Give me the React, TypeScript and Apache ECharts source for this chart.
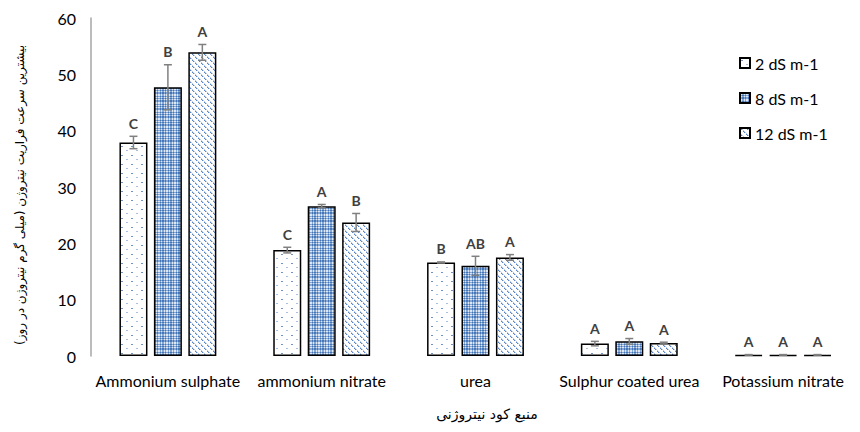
import React, { useEffect, useRef } from "react";
import * as echarts from "echarts";

const categories = ["Ammonium sulphate", "ammonium nitrate", "urea", "Sulphur coated urea", "Potassium nitrate"];
const seriesNames = ["2 dS m-1", "8 dS m-1", "12 dS m-1"];
const values2 = [37.9, 18.8, 16.6, 2.2, 0.2];
const values8 = [47.7, 26.6, 16.0, 2.6, 0.2];
const values12 = [53.9, 23.7, 17.5, 2.3, 0.2];
const err2 = [1.1, 0.5, 0.1, 0.4, 0.05];
const err8 = [4.0, 0.3, 1.7, 0.5, 0.05];
const err12 = [1.4, 1.6, 0.5, 0.15, 0.05];
const letters2 = ["C", "C", "B", "A", "A"];
const letters8 = ["B", "A", "AB", "A", "A"];
const letters12 = ["A", "B", "A", "A", "A"];
const yTicks = { min: 0, max: 60, interval: 10 };
const yTitle = "بیشترین سرعت فراریت نیتروژن (میلی گرم نیتروژن در روز)";
const xTitle = "منبع کود نیتروژنی";

const BAR_W = 28;
const GAP_RATIO = 0.23;

function makeTile(kind: number): HTMLCanvasElement {
  const c = document.createElement("canvas");
  const ctx = c.getContext("2d")!;
  if (kind === 0) {
    c.width = 10; c.height = 9;
    ctx.fillStyle = "#ffffff"; ctx.fillRect(0, 0, 10, 9);
    ctx.fillStyle = "#6f93c6"; ctx.fillRect(1, 2, 2, 1);
    ctx.fillStyle = "#a9bfdf"; ctx.fillRect(6, 6, 2, 1);
  } else if (kind === 1) {
    c.width = 8; c.height = 8;
    const colD = [1, 0, 1, 1, 0, 1, 0, 0];
    const rowD = [1, 0, 1, 0, 1, 1, 0, 0];
    for (let x = 0; x < 8; x++) for (let y = 0; y < 8; y++) {
      const n = colD[x] + rowD[y];
      ctx.fillStyle = n === 2 ? "#4675b5" : n === 1 ? "#86a8d6" : "#dde7f3";
      ctx.fillRect(x, y, 1, 1);
    }
  } else {
    c.width = 6; c.height = 6;
    ctx.fillStyle = "#ffffff"; ctx.fillRect(0, 0, 6, 6);
    for (let x = 0; x < 6; x++) for (let y = 0; y < 6; y++) {
      const d = (x - y + 6) % 6;
      if (d === 0 && (x % 3 !== 2)) { ctx.fillStyle = "#5a86c2"; ctx.fillRect(x, y, 1, 1); }
      else if (d === 1) { ctx.fillStyle = "#bccde6"; ctx.fillRect(x, y, 1, 1); }
    }
  }
  return c;
}

export default function App() {
  const ref = useRef<HTMLDivElement>(null);
  useEffect(() => {
    if (!ref.current) return;
    const chart = echarts.init(ref.current, undefined, { renderer: "svg" });
    const valueLists = [values2, values8, values12];
    const errLists = [err2, err8, err12];
    const letterLists = [letters2, letters8, letters12];
    const patterns = [0, 1, 2].map((k) => {
      const t = makeTile(k);
      return { image: t, repeat: "repeat", imageWidth: t.width, imageHeight: t.height } as any;
    });
    const errData: number[][] = [];
    valueLists.forEach((vals, s) => vals.forEach((v, i) => errData.push([i, s, v, errLists[s][i]])));
    const gapPx = BAR_W * GAP_RATIO;

    chart.setOption({
      animation: false,
      backgroundColor: "#ffffff",
      textStyle: { fontFamily: "Lato" },
      grid: { left: 91, right: -12, top: 18, bottom: 76 },
      legend: {
        orient: "vertical",
        left: 734,
        top: 50,
        itemWidth: 10,
        itemHeight: 10,
        itemGap: 19,
        itemTextGap: 4,
        icon: "rect",
        textStyle: { fontFamily: "Lato", fontSize: 16, color: "#000", lineHeight: 14 },
        data: seriesNames,
      },
      xAxis: {
        type: "category",
        data: categories,
        axisLine: { show: false },
        axisTick: { show: false },
        axisLabel: { color: "#000", fontSize: 16, fontFamily: "Lato", margin: 16, interval: 0 },
      },
      yAxis: {
        type: "value",
        min: yTicks.min,
        max: yTicks.max,
        interval: yTicks.interval,
        splitLine: { show: false },
        axisTick: { show: false },
        axisLine: { show: true, lineStyle: { color: "#a6a6a6", width: 1.5 } },
        axisLabel: { color: "#000", fontSize: 16, fontFamily: "Lato", margin: 15 },
      },
      series: [
        ...valueLists.map((vals, s) => ({
          type: "bar",
          name: seriesNames[s],
          data: vals,
          barWidth: BAR_W,
          barGap: GAP_RATIO * 100 + "%",
          itemStyle: { color: patterns[s], borderColor: "#000", borderWidth: 1.5 },
          z: 2,
        })),
        {
          type: "custom",
          name: "errors",
          data: errData,
          z: 5,
          silent: true,
          renderItem: (params: any, api: any) => {
            const cat = api.value(0);
            const s = api.value(1);
            const v = api.value(2);
            const e = api.value(3);
            const top = api.coord([cat, v + e]);
            const bot = api.coord([cat, Math.max(v - e, 0)]);
            const x = top[0] + (s - 1) * (BAR_W + gapPx);
            const st = { stroke: "#808080", lineWidth: 1.5 };
            return {
              type: "group",
              children: [
                { type: "line", shape: { x1: x, y1: top[1], x2: x, y2: bot[1] }, style: st },
                { type: "line", shape: { x1: x - 4, y1: top[1], x2: x + 4, y2: top[1] }, style: st },
                { type: "line", shape: { x1: x - 4, y1: bot[1], x2: x + 4, y2: bot[1] }, style: st },
                {
                  type: "text",
                  x,
                  y: top[1] - 13,
                  style: {
                    text: letterLists[s][cat],
                    fill: "#404040",
                    font: "bold 14px Lato",
                    align: "center",
                    verticalAlign: "middle",
                  },
                },
              ],
            };
          },
        },
      ],
      graphic: [
        {
          type: "text",
          x: 20,
          y: 195,
          rotation: Math.PI / 2,
          style: {
            text: yTitle,
            font: "12px 'DejaVu Sans'",
            fill: "#000",
            align: "center",
            verticalAlign: "middle",
          },
        },
        {
          type: "text",
          x: 487,
          y: 414,
          style: {
            text: xTitle,
            font: "14px 'DejaVu Sans'",
            fill: "#000",
            align: "center",
            verticalAlign: "middle",
          },
        },
      ],
    } as any);
    return () => chart.dispose();
  }, []);
  return <div ref={ref} style={{ position: "absolute", left: 0, top: 0, width: 860, height: 432 }} />;
}
